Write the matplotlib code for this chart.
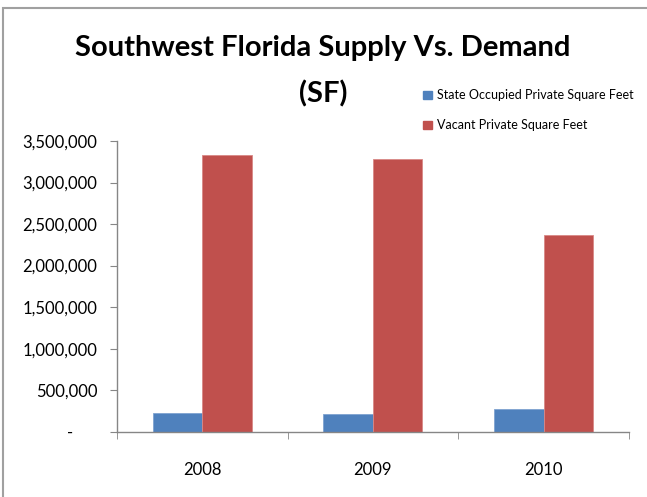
import numpy as np
import matplotlib.pyplot as plt
import matplotlib.patches as mpatches
import matplotlib.transforms as mtransforms
from matplotlib.ticker import FuncFormatter, FixedLocator

# ── Data ──────────────────────────────────────────────────────────────────
years = ["2008", "2009", "2010"]
occupied = [230000, 212000, 270000]
vacant = [3328000, 3287000, 2368000]
series_labels = ["State Occupied Private Square Feet", "Vacant Private Square Feet"]
colors = ["#4F81BD", "#C0504D"]
yticks = [0, 500000, 1000000, 1500000, 2000000, 2500000, 3000000, 3500000]

FONT = ["Lato", "DejaVu Sans"]
plt.rcParams["font.family"] = FONT

# ── Figure ────────────────────────────────────────────────────────────────
fig = plt.figure(figsize=(6.47, 4.97), dpi=100)
ax = fig.add_axes([0.1808, 0.1314, 0.7912, 0.5849])

# outer chart frame (only top/left visible in the crop)
fig.patches.append(mpatches.Rectangle((3 / 647, -0.1), 1.2, 1 - 8 / 497 + 0.1,
                                      transform=fig.transFigure, fill=False,
                                      edgecolor="#A0A0A0", linewidth=1.5))

x = np.arange(len(years))
width = 0.29
ax.bar(x - width / 2, occupied, width, color=colors[0], edgecolor="#7FA3D0",
       linewidth=0.6, label=series_labels[0])
ax.bar(x + width / 2, vacant, width, color=colors[1], edgecolor="#D98886",
       linewidth=0.6, label=series_labels[1])

ax.set_xlim(-0.5, len(years) - 0.5)
ax.set_ylim(0, 3500000)

for s in ["top", "right"]:
    ax.spines[s].set_visible(False)
for s in ["left", "bottom"]:
    ax.spines[s].set_color("#868686")
    ax.spines[s].set_linewidth(1.0)

# y axis
ax.yaxis.set_major_locator(FixedLocator(yticks))
ax.yaxis.set_major_formatter(FuncFormatter(lambda v, p: "-" if v == 0 else f"{int(v):,}"))
ax.tick_params(axis="y", length=5, color="#868686", labelsize=12, pad=9,
               labelcolor="black")

# x axis: labels at centers, ticks at boundaries
ax.set_xticks(x)
ax.set_xticklabels(years)
ax.set_xticks(np.arange(-0.5, len(years)), minor=True)
ax.tick_params(axis="x", which="major", length=0, labelsize=12, pad=22)
ax.tick_params(axis="x", which="minor", length=5, color="#868686")

fig.canvas.draw()
zero_label = ax.get_yticklabels()[0]
zero_label.set_transform(zero_label.get_transform() +
                         mtransforms.ScaledTranslation(-24 / 100, 0, fig.dpi_scale_trans))

# ── Title ─────────────────────────────────────────────────────────────────
fig.text(323 / 647, 1 - 48 / 497, "Southwest Florida Supply Vs. Demand", ha="center",
         va="center", fontsize=21, fontweight="bold")
fig.text(323 / 647, 1 - 94 / 497, "(SF)", ha="center", va="center",
         fontsize=21, fontweight="bold")

# ── Legend ────────────────────────────────────────────────────────────────
handles = [mpatches.Patch(color=c) for c in colors]
fig.legend(handles, series_labels, loc="upper left",
           bbox_to_anchor=(412 / 647, 1 - 78 / 497), frameon=False,
           fontsize=9, handlelength=0.7, handleheight=0.7,
           handletextpad=0.4, labelspacing=1.45)

fig.savefig("out.png", dpi=100)
